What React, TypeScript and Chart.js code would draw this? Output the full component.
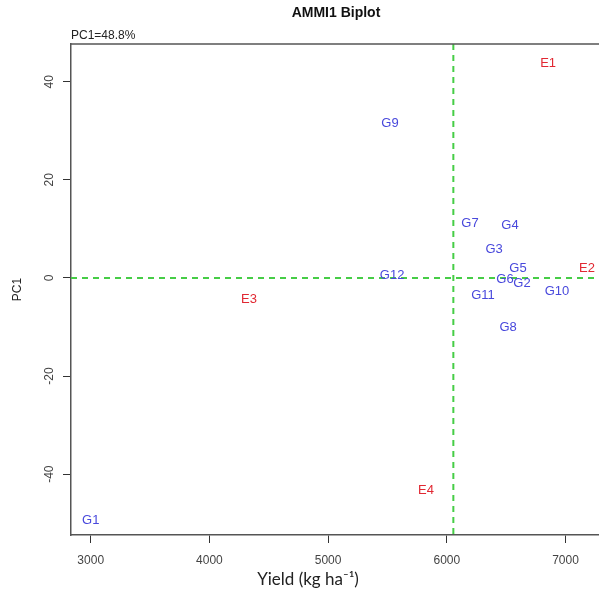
import React, { useEffect, useRef } from "react";
import { Chart, registerables } from "chart.js";

Chart.register(...registerables);

const genotypes = ["G1", "G2", "G3", "G4", "G5", "G6", "G7", "G8", "G9", "G10", "G11", "G12"];
const genoYield = [3000, 6633, 6398, 6532, 6600, 6490, 6195, 6516, 5521, 6928, 6305, 5539];
const genoPC1 = [-49.4, -1.2, 5.9, 10.8, 2.0, -0.3, 11.2, -10.0, 31.6, -2.8, -3.6, 0.5];

const environments = ["E1", "E2", "E3", "E4"];
const envYield = [6853, 7181, 4334, 5825];
const envPC1 = [43.7, 2.0, -4.3, -43.3];

const meanYield = 6055;
const xTicks = [3000, 4000, 5000, 6000, 7000];
const yTicks = [-40, -20, 0, 20, 40];
const xMin = 2834;
const xMax = 7282;
const yMin = -52.4;
const yMax = 47.7;

const titleText = "AMMI1 Biplot";
const pcText = "PC1=48.8%";
const xTitle = "Yield (kg ha\u207B\u00B9)";
const yTitle = "PC1";

const GENO_COLOR = "rgb(72,72,220)";
const ENV_COLOR = "rgb(225,40,50)";
const FRAME = "#555";

const labelPlugin = {
  id: "biplotLabels",
  beforeDatasetsDraw(chart: any) {
    const { ctx, chartArea, scales } = chart;
    const xp = scales.x.getPixelForValue(meanYield);
    const yp = scales.y.getPixelForValue(0);
    ctx.save();
    ctx.strokeStyle = "rgb(70,205,70)";
    ctx.lineWidth = 2;
    ctx.setLineDash([6, 5]);
    ctx.beginPath();
    ctx.moveTo(xp, chartArea.top);
    ctx.lineTo(xp, chartArea.bottom);
    ctx.moveTo(chartArea.left, yp);
    ctx.lineTo(chartArea.right, yp);
    ctx.stroke();
    ctx.restore();
  },
  afterDatasetsDraw(chart: any) {
    const { ctx } = chart;
    ctx.save();
    ctx.font = "13px 'Liberation Sans', Arial, sans-serif";
    ctx.textAlign = "center";
    ctx.textBaseline = "middle";
    chart.data.datasets.forEach((ds: any, i: number) => {
      const meta = chart.getDatasetMeta(i);
      ctx.fillStyle = ds.textColor;
      meta.data.forEach((pt: any, j: number) => {
        ctx.fillText(ds.names[j], pt.x, pt.y);
      });
    });
    ctx.restore();
  },
  afterDraw(chart: any) {
    const { ctx, chartArea } = chart;
    ctx.save();
    ctx.strokeStyle = FRAME;
    ctx.lineWidth = 1.5;
    ctx.beginPath();
    ctx.moveTo(chartArea.left, chartArea.top);
    ctx.lineTo(chartArea.right, chartArea.top);
    ctx.stroke();
    ctx.fillStyle = "#111";
    ctx.font = "bold 14px 'Liberation Sans', Arial, sans-serif";
    ctx.textAlign = "center";
    ctx.textBaseline = "middle";
    ctx.fillText(titleText, (chartArea.left + chartArea.right + 2) / 2, 13);
    ctx.font = "12px 'Liberation Sans', Arial, sans-serif";
    ctx.textAlign = "left";
    ctx.textBaseline = "alphabetic";
    ctx.fillStyle = "#222";
    ctx.fillText(pcText, chartArea.left, chartArea.top - 5);
    ctx.font = "17px Lato, 'Open Sans', sans-serif";
    ctx.textAlign = "center";
    ctx.textBaseline = "middle";
    ctx.fillStyle = "#222";
    ctx.fillText(xTitle, chartArea.left + 237, chartArea.bottom + 45);
    ctx.restore();
  },
};

export default function App() {
  const ref = useRef<HTMLCanvasElement>(null);
  useEffect(() => {
    if (!ref.current) return;
    const chart = new Chart(ref.current, {
      type: "scatter",
      data: {
        datasets: [
          {
            label: "Genotypes",
            data: genoYield.map((v, i) => ({ x: v, y: genoPC1[i] })),
            pointRadius: 0,
            names: genotypes,
            textColor: GENO_COLOR,
          } as any,
          {
            label: "Environments",
            data: envYield.map((v, i) => ({ x: v, y: envPC1[i] })),
            pointRadius: 0,
            names: environments,
            textColor: ENV_COLOR,
          } as any,
        ],
      },
      options: {
        animation: false,
        responsive: false,
        devicePixelRatio: 1,
        layout: { padding: { top: 44, right: 0, left: 0, bottom: 0 } },
        plugins: { legend: { display: false }, tooltip: { enabled: false }, title: { display: false } },
        scales: {
          x: {
            type: "linear",
            min: xMin,
            max: xMax,
            afterBuildTicks: (s: any) => {
              s.ticks = xTicks.map((v) => ({ value: v }));
            },
            afterFit: (s: any) => {
              s.height = 63;
            },
            grid: { drawOnChartArea: false, drawTicks: true, tickLength: 8, tickColor: "#333", tickWidth: 1 },
            border: { display: true, color: FRAME, width: 1.5 },
            ticks: {
              color: "#444",
              font: { family: "'Liberation Sans', Arial", size: 12 },
              padding: 10,
              maxRotation: 0,
              callback: (v: any) => String(v),
            },
            title: { display: false },
          },
          y: {
            type: "linear",
            min: yMin,
            max: yMax,
            afterBuildTicks: (s: any) => {
              s.ticks = yTicks.map((v) => ({ value: v }));
            },
            afterFit: (s: any) => {
              s.width = 71;
            },
            grid: { drawOnChartArea: false, drawTicks: true, tickLength: 8, tickColor: "#333", tickWidth: 1 },
            border: { display: true, color: FRAME, width: 1.5 },
            ticks: {
              color: "#444",
              font: { family: "'Liberation Sans', Arial", size: 12 },
              padding: 5,
              minRotation: 90,
              maxRotation: 90,
              crossAlign: "center",
              callback: (v: any) => String(v),
            },
            title: {
              display: true,
              text: yTitle,
              color: "#222",
              font: { family: "'Liberation Sans', Arial", size: 12 },
              padding: { top: 10, bottom: 0 },
            },
          },
        },
      } as any,
      plugins: [labelPlugin],
    });
    return () => chart.destroy();
  }, []);
  return (
    <div style={{ position: "absolute", left: 0, top: 0, width: 599, height: 598, overflow: "hidden", background: "#fff" }}>
      <canvas ref={ref} width={599} height={598} style={{ width: 599, height: 598, display: "block" }} />
    </div>
  );
}
